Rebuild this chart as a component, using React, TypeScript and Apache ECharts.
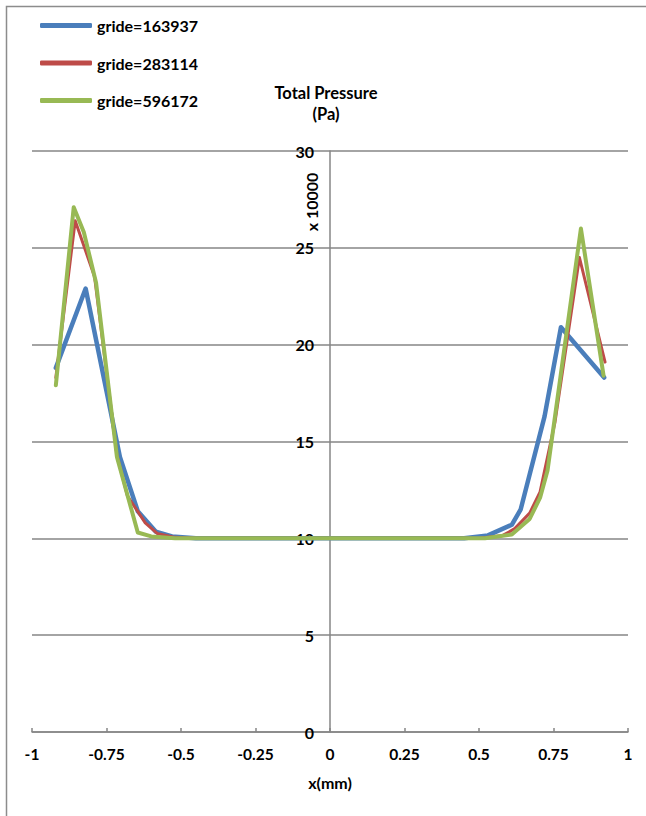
import React, { useEffect, useRef } from "react";
import * as echarts from "echarts";

const seriesNames = ["gride=163937", "gride=283114", "gride=596172"];
const seriesColors = ["#4A7EBB", "#BE4B48", "#98B954"];

const blueX = [-0.92, -0.82, -0.705, -0.645, -0.585, -0.53, -0.45, 0, 0.45, 0.53, 0.61, 0.64, 0.72, 0.775, 0.92];
const blueY = [18.8, 22.9, 14.2, 11.4, 10.35, 10.1, 10.0, 10.0, 10.0, 10.15, 10.7, 11.5, 16.3, 20.9, 18.3];

const redX = [-0.92, -0.855, -0.79, -0.715, -0.68, -0.62, -0.58, -0.52, -0.45, 0, 0.5, 0.58, 0.62, 0.67, 0.705, 0.755, 0.837, 0.923];
const redY = [18.3, 26.4, 23.5, 14.3, 12.2, 10.8, 10.25, 10.05, 10.0, 10.0, 10.0, 10.15, 10.5, 11.3, 12.4, 16.0, 24.5, 19.1];

const greenX = [-0.92, -0.86, -0.826, -0.785, -0.715, -0.645, -0.6, -0.52, 0, 0.52, 0.61, 0.67, 0.705, 0.73, 0.842, 0.918];
const greenY = [17.9, 27.1, 25.8, 23.2, 14.2, 10.3, 10.1, 10.0, 10.0, 10.0, 10.2, 11.0, 12.1, 13.5, 26.0, 18.4];

const xTicks = { min: -1, max: 1, interval: 0.25 };
const yTicks = { min: 0, max: 30, interval: 5 };

const FONT = "Lato";

export default function App() {
  const ref = useRef<HTMLDivElement>(null);
  useEffect(() => {
    if (!ref.current) return;
    const chart = echarts.init(ref.current, null, { renderer: "svg" });
    const xs = [blueX, redX, greenX];
    const ys = [blueY, redY, greenY];
    const widths = [4.5, 3, 4];
    chart.setOption({
      animation: false,
      backgroundColor: "#ffffff",
      textStyle: { fontFamily: FONT },
      legend: {
        orient: "vertical",
        left: 35,
        top: 12,
        itemWidth: 52,
        itemHeight: 5,
        itemGap: 20.5,
        icon: "roundRect",
        data: seriesNames,
        textStyle: { fontFamily: FONT, fontWeight: "bold", fontSize: 16, color: "#000", lineHeight: 17, padding: [0, 0, 0, 0] },
      },
      grid: { left: 32, right: 18, top: 151, bottom: 84, containLabel: false },
      xAxis: {
        type: "value",
        min: xTicks.min,
        max: xTicks.max,
        interval: xTicks.interval,
        name: "x(mm)",
        nameLocation: "middle",
        nameGap: 42,
        nameTextStyle: { fontFamily: FONT, fontWeight: "bold", fontSize: 16, color: "#000" },
        axisLine: { show: true, onZero: false, lineStyle: { color: "#868686", width: 1.5 } },
        axisTick: { show: true, inside: true, length: 4, lineStyle: { color: "#868686", width: 1.5 } },
        axisLabel: { fontFamily: FONT, fontWeight: "bold", fontSize: 15.5, color: "#000", margin: 14 },
        splitLine: { show: false },
      },
      yAxis: {
        type: "value",
        min: yTicks.min,
        max: yTicks.max,
        interval: yTicks.interval,
        offset: -298,
        axisLine: { show: true, onZero: false, lineStyle: { color: "#868686", width: 1.5 } },
        axisTick: { show: false },
        axisLabel: { fontFamily: FONT, fontWeight: "bold", fontSize: 16, color: "#000", margin: 16 },
        splitLine: { show: true, lineStyle: { color: "#868686", width: 1.5 } },
      },
      graphic: [
        {
          type: "rect",
          shape: { x: 6.5, y: 6.5, width: 800, height: 900 },
          style: { fill: "none", stroke: "#8c8c8c", lineWidth: 1.5 },
          silent: true,
        },
        {
          type: "text",
          x: 326,
          y: 93,
          style: { text: "Total Pressure", fontFamily: FONT, fontWeight: "bold", fontSize: 16.5, fill: "#000", textAlign: "center", textVerticalAlign: "middle" },
        },
        {
          type: "text",
          x: 326,
          y: 114,
          style: { text: "(Pa)", fontFamily: FONT, fontWeight: "bold", fontSize: 16.5, fill: "#000", textAlign: "center", textVerticalAlign: "middle" },
        },
        {
          type: "text",
          x: 311,
          y: 202,
          rotation: Math.PI / 2,
          style: { text: "x 10000", fontFamily: FONT, fontWeight: "bold", fontSize: 16, fill: "#000", textAlign: "center", textVerticalAlign: "middle" },
        },
      ],
      series: seriesNames.map((name, i) => ({
        name,
        type: "line",
        showSymbol: false,
        symbol: "none",
        color: seriesColors[i],
        lineStyle: { color: seriesColors[i], width: widths[i], cap: "round", join: "round" },
        data: xs[i].map((x, j) => [x, ys[i][j]]),
        z: 3 + i,
      })),
    });
    return () => chart.dispose();
  }, []);
  return <div ref={ref} style={{ position: "fixed", left: 0, top: 0, width: 646, height: 816 }} />;
}
